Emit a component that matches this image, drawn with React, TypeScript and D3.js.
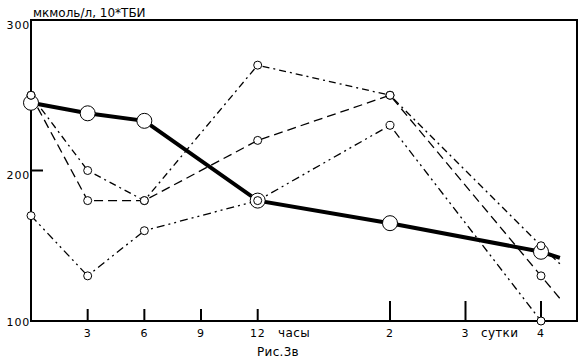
import { useEffect, useRef } from 'react';
import * as d3 from 'd3';

// time points in hours (days 2 and 4 = 48h, 96h; last one is the line tail past day 4)
const hours = [0, 3, 6, 12, 48, 96, 102];
const thickSeries = [245, 238, 233, 180, 165, 146, 142];
const seriesA = [250, 200, 180, 270, 250, 150, 138];
const seriesB = [250, 180, 180, 220, 250, 130, 115];
const seriesC = [170, 130, 160, 180, 230, 100];
const markerCount = 6;

const hourTicks = [3, 6, 9, 12];
const dayTicks = [2, 3, 4];
const yTicks = [100, 200, 300];

function App() {
    const chartRef = useRef(null);

    useEffect(() => {
        const svg = d3.select(chartRef.current);
        svg.selectAll('*').remove();

        const left = 31, right = 577, top = 20, bottom = 321;
        const font = '"DejaVu Sans", "Liberation Sans", sans-serif';

        // broken axis: hours up to 12 (and a hidden 24h slot), then days
        const x = d3.scaleLinear().domain([0, 12, 24, 96]).range([left, 257.7, 314.5, 541]);
        const y = d3.scaleLinear().domain([100, 300]).range([bottom, top]);

        // frame
        svg.append('rect')
            .attr('x', left).attr('y', top)
            .attr('width', right - left).attr('height', bottom - top)
            .attr('fill', 'none').attr('stroke', '#000').attr('stroke-width', 2);

        // y ticks
        svg.selectAll('.ytick').data(yTicks.filter((d) => d > 100 && d < 300)).enter()
            .append('line')
            .attr('x1', left).attr('x2', left + 12)
            .attr('y1', (d) => y(d)).attr('y2', (d) => y(d))
            .attr('stroke', '#000').attr('stroke-width', 2);

        svg.selectAll('.ylab').data(yTicks).enter()
            .append('text')
            .attr('x', left - 1)
            .attr('y', (d) => (d === 100 ? y(d) + 5 : y(d) + 8.5))
            .attr('text-anchor', 'end')
            .attr('font-family', font).attr('font-size', 11)
            .attr('letter-spacing', 0.8)
            .text((d) => d);

        // x ticks
        svg.selectAll('.htick').data(hourTicks).enter()
            .append('line')
            .attr('x1', (d) => x(d)).attr('x2', (d) => x(d))
            .attr('y1', bottom).attr('y2', bottom - 12)
            .attr('stroke', '#000').attr('stroke-width', 2);
        svg.selectAll('.dtick').data(dayTicks).enter()
            .append('line')
            .attr('x1', (d) => x(d * 24)).attr('x2', (d) => x(d * 24))
            .attr('y1', bottom).attr('y2', bottom - 20)
            .attr('stroke', '#000').attr('stroke-width', 2);

        const tickText = (sel: any) => sel
            .attr('y', 337)
            .attr('text-anchor', 'middle')
            .attr('font-family', font).attr('font-size', 11)
            .attr('letter-spacing', 0.8);
        svg.selectAll('.hlab').data(hourTicks).enter()
            .append('text').attr('x', (d) => x(d)).call(tickText).text((d) => d);
        svg.selectAll('.dlab').data(dayTicks).enter()
            .append('text').attr('x', (d) => x(d * 24)).call(tickText).text((d) => d);

        const word = (tx: number, ty: number, s: string, ls: number) => svg.append('text')
            .attr('x', tx).attr('y', ty)
            .attr('font-family', font).attr('font-size', 12)
            .attr('letter-spacing', ls)
            .text(s);
        word(278, 337, 'часы', 0.4);
        word(481, 337, 'сутки', 0.3);
        word(257, 356, 'Рис.3в', 0.3);
        word(33, 17, 'мкмоль/л, 10*ТБИ', 0);

        const line = d3.line<number>()
            .x((_, i) => x(hours[i]))
            .y((d) => y(d));

        const thin = [
            { values: seriesA, dash: '7,4,2,4' },
            { values: seriesB, dash: '9,5' },
            { values: seriesC, dash: '8,4,2,4,2,4' },
        ];

        thin.forEach((s) => {
            svg.append('path')
                .datum(s.values)
                .attr('d', line)
                .attr('fill', 'none').attr('stroke', '#000')
                .attr('stroke-width', 1.3)
                .attr('stroke-dasharray', s.dash);
        });

        svg.append('path')
            .datum(thickSeries)
            .attr('d', line)
            .attr('fill', 'none').attr('stroke', '#000')
            .attr('stroke-width', 4);

        svg.selectAll('.big').data(thickSeries.slice(0, markerCount)).enter()
            .append('circle')
            .attr('cx', (_, i) => x(hours[i])).attr('cy', (d) => y(d))
            .attr('r', 7.5)
            .attr('fill', '#fff').attr('stroke', '#000').attr('stroke-width', 1);

        thin.forEach((s, k) => {
            svg.selectAll('.small' + k).data(s.values.slice(0, markerCount)).enter()
                .append('circle')
                .attr('cx', (_, i) => x(hours[i])).attr('cy', (d) => y(d))
                .attr('r', 4)
                .attr('fill', '#fff').attr('stroke', '#000').attr('stroke-width', 1);
        });
    }, []);

    return (
        <svg ref={chartRef} width="580" height="360"
            style={{ position: 'absolute', left: 0, top: 0, background: '#fff' }}></svg>
    );
}

export default App;
